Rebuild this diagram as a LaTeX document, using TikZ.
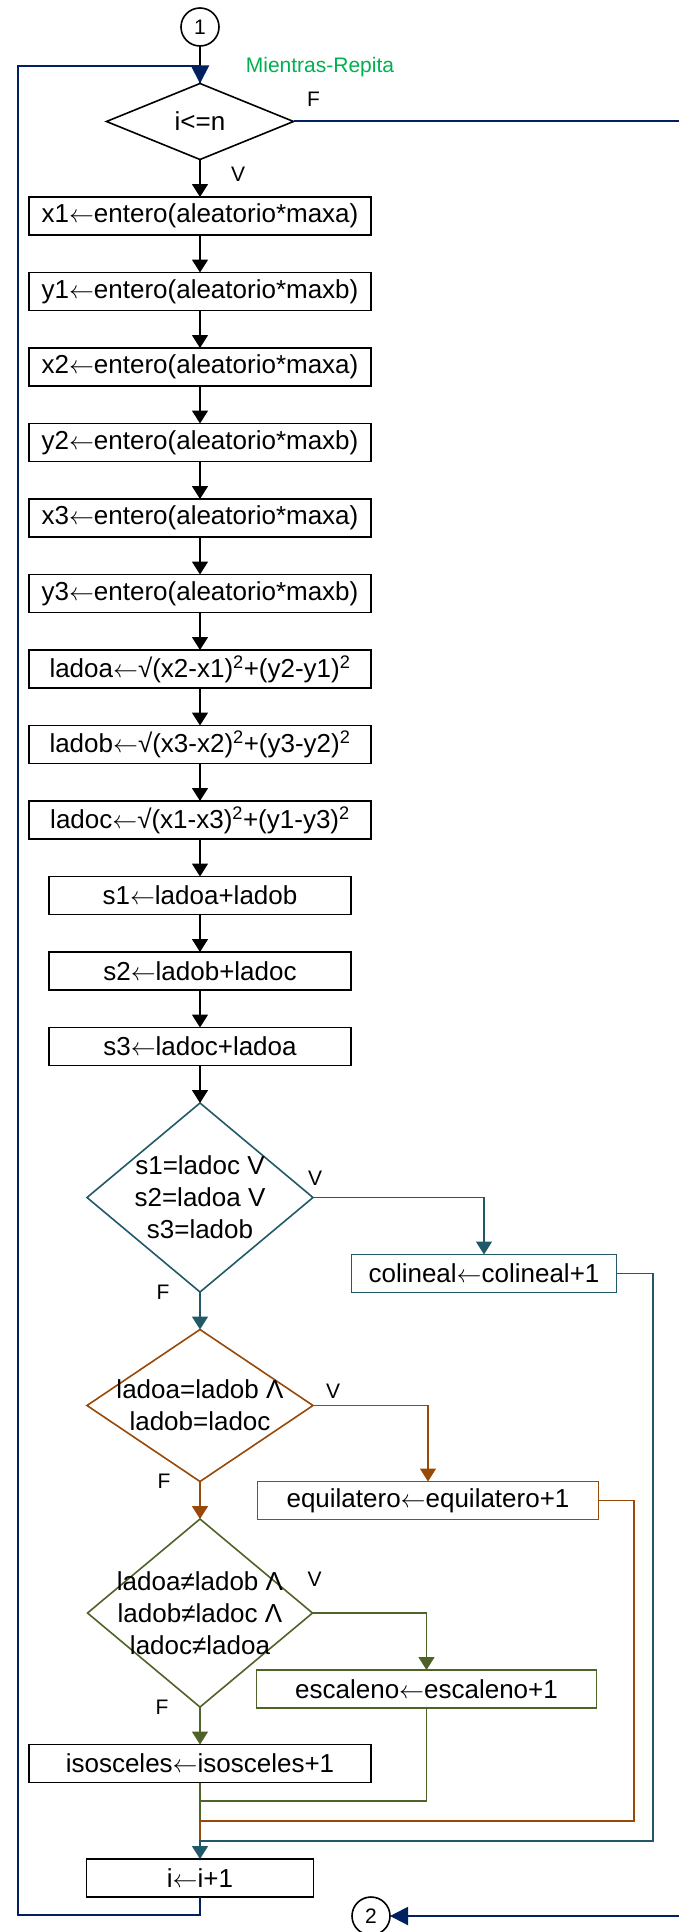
\documentclass[tikz,border=0pt]{standalone}
\usepackage{fontspec}
\setmainfont{Liberation Sans}
\usetikzlibrary{calc,positioning,chains,shapes.geometric,arrows.meta}
\definecolor{azulosc}{RGB}{0,32,96}
\definecolor{verdeazul}{RGB}{33,89,104}
\definecolor{marron}{RGB}{152,72,7}
\definecolor{oliva}{RGB}{79,98,40}
\definecolor{verdetxt}{RGB}{0,176,80}
\newcommand{\asig}{$\leftarrow$}
\tikzset{
    >={Triangle[length=13pt,width=16pt]},
    paso/.style={
      rectangle,
      draw=black, line width=1.6pt,
      minimum width=342pt,
      minimum height=38pt,
      inner sep=0pt, outer sep=0pt,
      font=\fontsize{26}{32}\selectfont},
    pasochain/.style={paso, on chain},
    decision/.style={
      diamond,
      draw=#1, line width=1.6pt,
      inner sep=0pt, outer sep=0pt,
      on chain},
    dtexto/.style={align=center, font=\fontsize{26}{32}\selectfont},
    conector/.style={circle, draw=black, line width=1.6pt, minimum size=38pt,
      inner sep=0pt, outer sep=0pt, font=\fontsize{21}{24}\selectfont},
    etiq/.style={inner sep=0pt, font=\fontsize{21}{24}\selectfont},
    linea/.style={draw=#1, line width=1.6pt},
    flecha/.style={linea=#1, ->},
    lazo/.style={draw=azulosc, line width=2pt},
    every join/.style={->, line width=1.6pt},
    sinflecha/.style={-},
}
\begin{document}
\begin{tikzpicture}[x=1pt,y=1pt,node distance=37.5pt,start chain=going below]
    \useasboundingbox (0,0) rectangle (679,-1932);
    % columna principal
    \node[conector, on chain] (c1) at (200,-27) {1};
    \node[decision=black, minimum width=187pt, minimum height=76pt, join=by sinflecha,
          label={[dtexto]center:i<=n}] (cond) {};
    \node[pasochain, join] (x1) {x1\asig entero(aleatorio*maxa)};
    \node[pasochain, join] (y1) {y1\asig entero(aleatorio*maxb)};
    \node[pasochain, join] (x2) {x2\asig entero(aleatorio*maxa)};
    \node[pasochain, join] (y2) {y2\asig entero(aleatorio*maxb)};
    \node[pasochain, join] (x3) {x3\asig entero(aleatorio*maxa)};
    \node[pasochain, join] (y3) {y3\asig entero(aleatorio*maxb)};
    \node[pasochain, join] (ladoa) {ladoa\asig√(x2-x1)\textsuperscript{2}+(y2-y1)\textsuperscript{2}};
    \node[pasochain, join] (ladob) {ladob\asig√(x3-x2)\textsuperscript{2}+(y3-y2)\textsuperscript{2}};
    \node[pasochain, join] (ladoc) {ladoc\asig√(x1-x3)\textsuperscript{2}+(y1-y3)\textsuperscript{2}};
    \node[pasochain, join, minimum width=302pt] (s1) {s1\asig ladoa+ladob};
    \node[pasochain, join, minimum width=302pt] (s2) {s2\asig ladob+ladoc};
    \node[pasochain, join, minimum width=302pt] (s3) {s3\asig ladoc+ladoa};
    \node[decision=verdeazul, minimum width=226pt, minimum height=189pt, join,
          label={[dtexto]center:s1=ladoc V\\s2=ladoa V\\s3=ladob}] (d1) {};
    \node[decision=marron, minimum width=226pt, minimum height=152pt, join=by verdeazul,
          label={[dtexto]center:ladoa=ladob Λ\\ladob=ladoc}] (d2) {};
    \node[decision=oliva, minimum width=225pt, minimum height=188pt, join=by marron,
          label={[dtexto]center:ladoa≠ladob Λ\\ladob≠ladoc Λ\\ladoc≠ladoa}] (d3) {};
    \node[pasochain, join=by oliva] (isosceles) {isosceles\asig isosceles+1};
    \node[paso, minimum width=227pt, below=76.5pt of isosceles] (inc) {i\asig i+1};

    % ramas verdaderas
    \node[paso, draw=verdeazul, minimum width=265pt] (colineal) at ($(d1.east)+(171,-76)$) {colineal\asig colineal+1};
    \node[paso, draw=marron, minimum width=341pt] (equilatero) at ($(d2.east)+(115,-95)$) {equilatero\asig equilatero+1};
    \node[paso, draw=oliva, minimum width=340pt] (escaleno) at ($(d3.east)+(114,-76)$) {escaleno\asig escaleno+1};
    \draw[flecha=verdeazul] (d1.east) -| (colineal);
    \draw[flecha=marron] (d2.east) -| (equilatero);
    \draw[flecha=oliva] (d3.east) -| (escaleno);

    % uniones antes de i<-i+1
    \coordinate (mT) at ($(inc.north)+(0,18)$);
    \coordinate (mB) at ($(inc.north)+(0,38)$);
    \coordinate (mG) at ($(inc.north)+(0,58)$);
    \draw[linea=oliva] (isosceles) -- (mB);
    \draw[linea=oliva] (escaleno) |- (mG);
    \draw[linea=marron] (equilatero.east) -- ++(35.5,0) |- (mB) -- (mT);
    \draw[flecha=verdeazul] (colineal.east) -- ++(36.5,0) |- (mT) -- (inc);

    % lazo mientras
    \coordinate (edgeR) at (679,0);
    \coordinate (loopT) at ($(cond.north)+(0,17.5)$);
    \coordinate (loopB) at ($(inc.south)+(0,-18)$);
    \draw[lazo, -{Triangle[length=18pt,width=18pt]}] (inc) -- (loopB) -- ++(-182,0) |- (loopT) -- (cond.north);
    \draw[lazo] (cond.east) -- (cond.east -| edgeR);
    \node[conector] (c2) at ($(inc.south)+(171,-19)$) {2};
    \draw[lazo, -{Triangle[length=18pt,width=18pt]}] (c2 -| edgeR) -- (c2);

    % etiquetas
    \node[etiq, text=verdetxt] (mientras) at ($(cond.north)+(120,16)$) {Mientras-Repita};
    \node[etiq] (fcond) at ($(cond.east)+(20,22)$) {F};
    \node[etiq] (vcond) at ($(cond.south)+(38,-15)$) {V};
    \node[etiq] (vd1) at ($(d1.east)+(2,19)$) {V};
    \node[etiq] (fd1) at ($(d1.south)+(-37,0)$) {F};
    \node[etiq] (vd2) at ($(d2.east)+(20,14)$) {V};
    \node[etiq] (fd2) at ($(d2.south)+(-36,0)$) {F};
    \node[etiq] (vd3) at ($(d3.east)+(2,34)$) {V};
    \node[etiq] (fd3) at ($(d3.south)+(-38,0)$) {F};
\end{tikzpicture}
\end{document}
